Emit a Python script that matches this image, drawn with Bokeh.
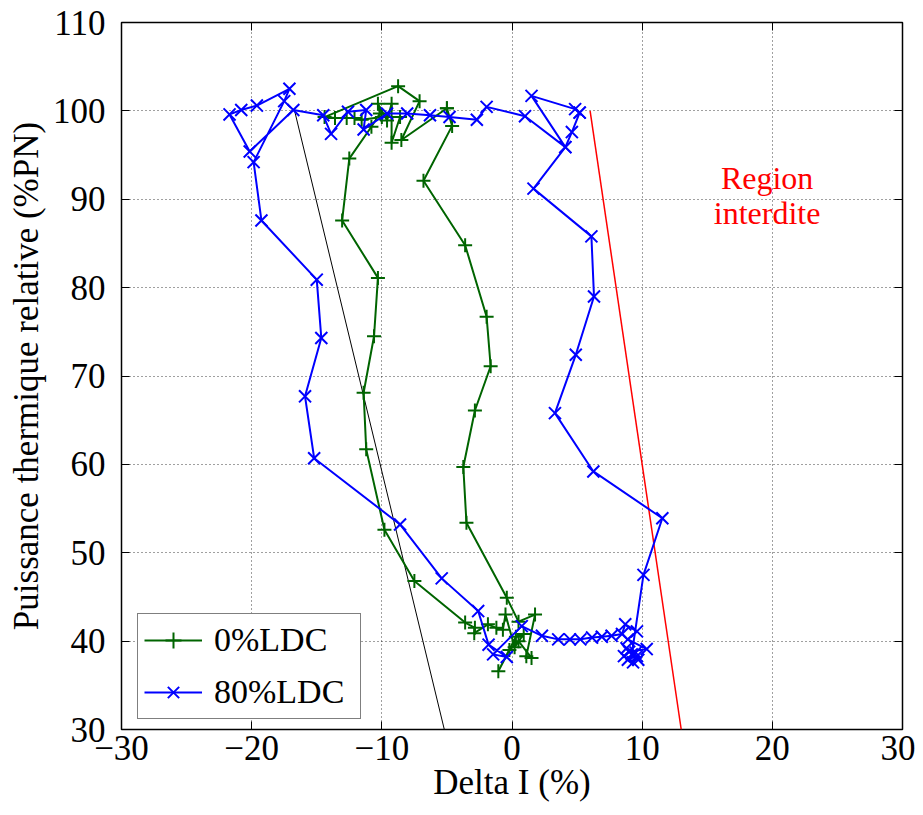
from bokeh.plotting import figure
from bokeh.models import (Range1d, FixedTicker, LinearAxis, Legend, LegendItem,
                          CustomJSTickFormatter, ColumnDataSource)
from bokeh.core.properties import value
from bokeh.embed import file_html
from bokeh.resources import INLINE

# ---------------- data ----------------
ldc0_x = [-5.0, -4.6, -6.8, -3.6, -1.95, -1.64, -2.85, -3.74, -3.5, -0.4,
          0.5, 1.77, 1.1, 1.5, 0.5, -0.2, -1.05, 0.3, 0.9, 0.2,
          -0.5, -0.7, -1.2, -1.85, -2.9, -2.85, -3.6, -7.5, -9.8, -11.2,
          -11.4, -10.6, -10.3, -13.05, -12.5, -10.8, -10.15, -10.3, -9.6, -9.25,
          -9.25, -8.6, -10.0, -11.55, -12.1, -12.7, -13.6, -14.4, -8.75, -7.1,
          -8.5, -5.0]
ldc0_y = [100.3, 98.3, 92.1, 84.8, 76.7, 71.1, 66.1, 59.7, 53.4, 44.9,
          42.2, 43.0, 38.3, 38.1, 40.0, 39.0, 36.6, 40.5, 40.8, 39.3,
          43.0, 41.3, 41.5, 41.9, 40.9, 41.5, 42.1, 46.8, 52.6, 61.7,
          68.1, 74.5, 81.1, 87.6, 94.6, 98.2, 99.7, 100.8, 98.9, 100.8,
          96.4, 99.3, 99.3, 99.0, 99.2, 99.2, 99.2, 99.3, 102.8, 101.1,
          96.7, 100.3]

ldc80_x = [5.2, 4.85, 1.5, 4.1, 1.0, -1.95, -2.7, -4.8, -6.3, -8.05,
           -9.6, -11.4, -11.2, -12.6, -13.9, -14.5, -16.8, -20.15, -21.7, -20.8,
           -19.6, -17.1, -17.5, -19.85, -19.25, -15.0, -14.65, -15.9, -15.2, -8.6,
           -5.4, -2.6, -1.8, -0.4, -1.45, 0.75, 2.3, 3.55, 4.45, 5.25,
           6.15, 6.9, 7.65, 8.45, 8.7, 9.6, 8.9, 10.35, 9.0, 8.6,
           9.3, 9.6, 8.9, 9.5, 8.8, 9.7, 9.2, 10.1, 11.55, 6.25,
           3.3, 4.9, 6.3, 6.1, 1.65, 4.1, 4.6, 5.2]
ldc80_y = [99.8, 100.2, 101.7, 95.9, 99.4, 100.45, 99.0, 99.3, 99.5, 99.7,
           99.7, 97.9, 100.1, 99.9, 97.4, 99.5, 100.1, 95.4, 99.6, 100.1,
           100.6, 102.5, 101.1, 94.2, 87.6, 80.9, 74.3, 67.7, 60.7, 53.2,
           47.1, 43.4, 39.6, 38.2, 38.5, 41.7, 40.6, 40.2, 40.2, 40.2,
           40.4, 40.5, 40.6, 40.8, 41.9, 41.1, 40.2, 39.1, 38.8, 38.3,
           37.6, 38.3, 37.9, 38.7, 39.2, 37.9, 38.5, 47.5, 53.9, 59.2,
           65.8, 72.4, 79.0, 85.8, 91.2, 95.9, 97.6, 99.8]

black_x = [-16.7, -5.2]
black_y = [100.0, 30.0]
red_x = [6.0, 13.0]
red_y = [100.0, 30.0]

region_x = [19.6, 19.6]
region_y = [92.4, 88.4]
region_text = ["Region", "interdite"]

x_ticks = [-30, -20, -10, 0, 10, 20, 30]
y_ticks = [30, 40, 50, 60, 70, 80, 90, 100, 110]

FONT = "Liberation Serif, DejaVu Serif, serif"
GREEN = "#006400"
BLUE = "#0000ff"

# ---------------- figure ----------------
p = figure(width=915, height=807, output_backend="svg", toolbar_location=None,
           x_range=Range1d(-30, 30), y_range=Range1d(30, 110),
           min_border_left=121, min_border_right=13, min_border_top=22,
           min_border_bottom=78)
p.background_fill_color = "white"
p.border_fill_color = "white"
p.outline_line_color = "black"
p.outline_line_width = 1.5

fmt = CustomJSTickFormatter(code="return tick < 0 ? '\\u2212' + (-tick) : '' + tick;")

p.xaxis.ticker = FixedTicker(ticks=x_ticks)
p.yaxis.ticker = FixedTicker(ticks=y_ticks)
p.xaxis.formatter = fmt
p.yaxis.formatter = fmt

for ax in p.xaxis + p.yaxis:
    ax.major_tick_in = 8
    ax.major_tick_out = 0
    ax.minor_tick_line_color = None
    ax.axis_line_color = None
    ax.major_tick_line_color = "black"
    ax.major_label_text_font = FONT
    ax.major_label_text_font_size = "35px"
    ax.major_label_text_color = "black"
    ax.axis_label_text_font = FONT
    ax.axis_label_text_font_size = "35px"
    ax.axis_label_text_font_style = "normal"
    ax.axis_label_text_color = "black"

p.xaxis.axis_label = "Delta I (%)"
p.yaxis.axis_label = "Puissance thermique relative (%PN)"
p.xaxis.major_label_standoff = 6
p.yaxis.major_label_standoff = 16
p.xaxis.axis_label_standoff = 0
p.yaxis.axis_label_standoff = 4

# mirrored ticks (no labels)
blank = CustomJSTickFormatter(code="return '';")
for loc in ("right", "above"):
    ax = LinearAxis(ticker=FixedTicker(ticks=(y_ticks if loc == "right" else x_ticks)),
                    formatter=blank,
                    major_tick_in=8, major_tick_out=0, minor_tick_line_color=None,
                    axis_line_color=None, major_label_standoff=0)
    p.add_layout(ax, loc)

for g in (p.xgrid, p.ygrid):
    g.grid_line_color = "black"
    g.grid_line_alpha = 0.75
    g.grid_line_dash = "1 3"
    g.grid_line_width = 1
p.xgrid.ticker = FixedTicker(ticks=x_ticks)
p.ygrid.ticker = FixedTicker(ticks=y_ticks)

# reference lines
p.line(black_x, black_y, line_color="black", line_width=1)
p.line(red_x, red_y, line_color="#ff0000", line_width=1.5)

# series
src0 = ColumnDataSource(dict(x=ldc0_x, y=ldc0_y))
src80 = ColumnDataSource(dict(x=ldc80_x, y=ldc80_y))
l0 = p.line("x", "y", source=src0, line_color=GREEN, line_width=2)
m0 = p.scatter("x", "y", source=src0, marker="cross", size=14, line_color=GREEN, line_width=2)
l80 = p.line("x", "y", source=src80, line_color=BLUE, line_width=2)
m80 = p.scatter("x", "y", source=src80, marker="x", size=17, line_color=BLUE, line_width=2)

# text
p.text(region_x, region_y, text=region_text, text_font=value(FONT),
       text_font_size="32px", text_color="#ff0000", text_align="center",
       text_baseline="middle")

legend = Legend(items=[LegendItem(label="0%LDC", renderers=[l0, m0]),
                       LegendItem(label="80%LDC", renderers=[l80, m80])],
                location=(16, 10), label_text_font=FONT, label_text_font_size="34px",
                label_text_color="black", glyph_width=58, glyph_height=40,
                label_height=40, label_width=140, label_standoff=12,
                spacing=12, padding=6, margin=0,
                border_line_color="black", border_line_width=1.2,
                background_fill_alpha=1.0)
p.add_layout(legend, "center")

open("out.html", "w").write(file_html(p, INLINE))
